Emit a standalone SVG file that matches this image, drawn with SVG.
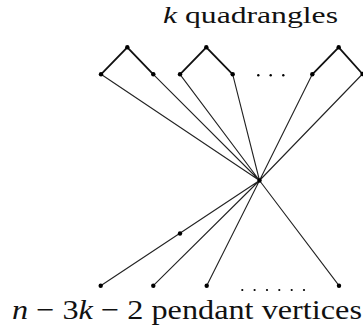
<svg xmlns="http://www.w3.org/2000/svg" width="363" height="333" viewBox="0 0 363 333">
<style>
.e{stroke:#222;stroke-width:1.1;fill:none}
.q{stroke:#111;stroke-width:1.8;fill:none}
.v{fill:#000}
.t{fill:#111;font-family:Liberation Serif,Times New Roman,Tinos,serif;font-weight:normal}
.i{font-style:italic}
</style>
<rect width="363" height="333" fill="#fff"/>
<g id="connectors">
<path class="q" d="M101,74.3 L127.3,47.3 L153.3,74.3 M180,74.3 L206.3,47.3 L232.7,74.3 M312.3,74.3 L338.7,47.3 L362.5,74"/>
<path class="e" d="M259.5,180.5 L101,74.3 M259.5,180.5 L153.3,74.3 M259.5,180.5 L180,74.3 M259.5,180.5 L232.7,74.3 M259.5,180.5 L312.3,74.3 M259.5,180.5 L362.5,74 M259.5,180.5 L100.7,285.7 M259.5,180.5 L153.3,285.7 M259.5,180.5 L206.7,285.7 M259.5,180.5 L339,285.7"/>
</g>
<g id="quad1"><circle class="v" cx="101" cy="74.3" r="2.2"/><circle class="v" cx="127.3" cy="47.3" r="2.2"/><circle class="v" cx="153.3" cy="74.3" r="2.2"/></g>
<g id="quad2"><circle class="v" cx="180" cy="74.3" r="2.2"/><circle class="v" cx="206.3" cy="47.3" r="2.2"/><circle class="v" cx="232.7" cy="74.3" r="2.2"/></g>
<g id="quad3"><circle class="v" cx="312.3" cy="74.3" r="2.2"/><circle class="v" cx="338.7" cy="47.3" r="2.2"/><circle class="v" cx="362.5" cy="74" r="2.2"/></g>
<g id="dots-top"><circle class="v" cx="258.3" cy="75.3" r="1.2"/><circle class="v" cx="270.7" cy="75.3" r="1.2"/><circle class="v" cx="283.3" cy="75.3" r="1.2"/></g>
<g id="center"><circle class="v" cx="259.5" cy="180.5" r="2.2"/></g>
<g id="mid"><circle class="v" cx="180" cy="233.5" r="2.2"/></g>
<g id="pendants"><circle class="v" cx="100.7" cy="285.7" r="2.2"/><circle class="v" cx="153.3" cy="285.7" r="2.2"/><circle class="v" cx="206.7" cy="285.7" r="2.2"/><circle class="v" cx="339" cy="285.7" r="2.2"/></g>
<g id="dots-bottom"><circle class="v" cx="242.3" cy="290" r="1.1"/><circle class="v" cx="254.6" cy="290" r="1.1"/><circle class="v" cx="267" cy="290" r="1.1"/><circle class="v" cx="279.3" cy="290" r="1.1"/><circle class="v" cx="291.7" cy="290" r="1.1"/><circle class="v" cx="304" cy="290" r="1.1"/></g>
<g id="label-top"><text class="t" x="163" y="22.5" font-size="24" textLength="175" lengthAdjust="spacingAndGlyphs"><tspan class="i">k</tspan> quadrangles</text></g>
<g id="label-bottom"><text class="t" x="12" y="319" font-size="28" textLength="350" lengthAdjust="spacingAndGlyphs"><tspan class="i">n</tspan> − 3<tspan class="i">k</tspan> − 2 pendant vertices</text></g>
</svg>
